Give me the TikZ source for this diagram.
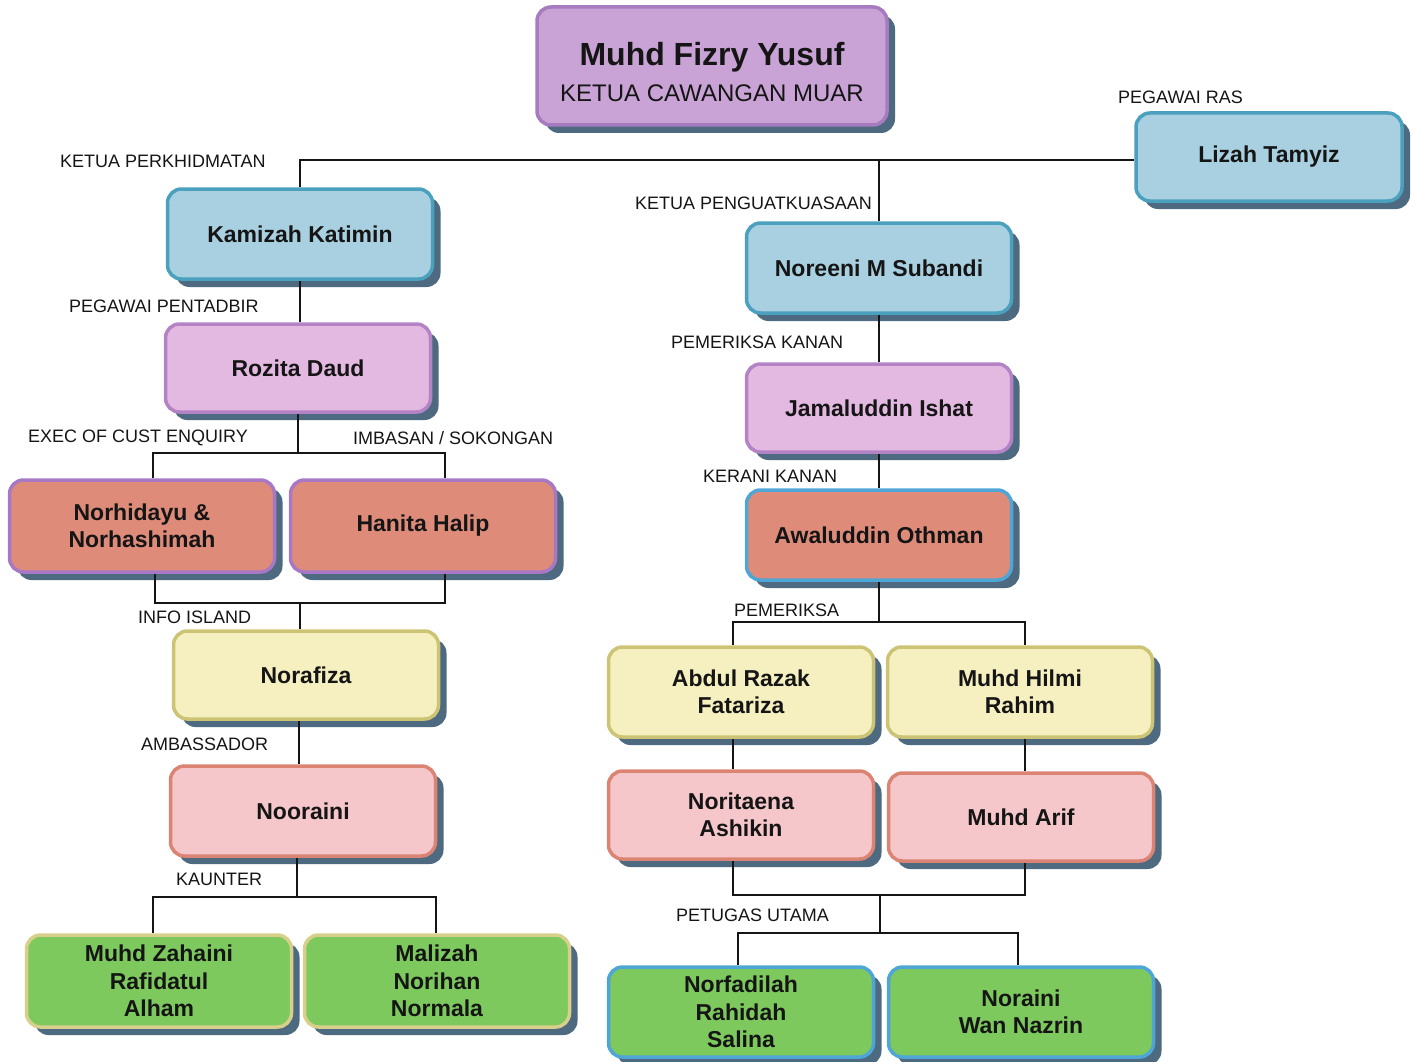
\documentclass[tikz,border=0pt]{standalone}
\usepackage{fontspec}
\setmainfont{Liberation Sans}
\usetikzlibrary{shadows}
\definecolor{shadowc}{HTML}{4E6A80}
\definecolor{topfill}{HTML}{C9A3D6}
\definecolor{topdraw}{HTML}{A77BBF}
\definecolor{bluefill}{HTML}{A8D0E0}
\definecolor{bluedraw}{HTML}{4AA0BD}
\definecolor{lilacfill}{HTML}{E3B9E2}
\definecolor{lilacdraw}{HTML}{B483C6}
\definecolor{salmonfill}{HTML}{DE8B7A}
\definecolor{purpdraw}{HTML}{A878C4}
\definecolor{skydraw}{HTML}{4EA6D6}
\definecolor{yellowfill}{HTML}{F6F0C0}
\definecolor{yellowdraw}{HTML}{CCC474}
\definecolor{pinkfill}{HTML}{F5C7CA}
\definecolor{pinkdraw}{HTML}{DB8474}
\definecolor{greenfill}{HTML}{7DC95E}
\definecolor{greendraw}{HTML}{D8D08A}
\definecolor{txt}{HTML}{151515}
\tikzset{
  box/.style={rounded corners=14pt, minimum width=265pt, minimum height=90pt,
    line width=3.5pt, align=center, inner sep=0pt, text=txt,
    font=\bfseries\fontsize{23}{27.5}\selectfont,
    copy shadow={shadow xshift=8pt, shadow yshift=-8pt, draw=none, fill=shadowc}},
  bluebox/.style={box, fill=bluefill, draw=bluedraw},
  lilacbox/.style={box, fill=lilacfill, draw=lilacdraw},
  salmonbox/.style={box, fill=salmonfill, draw=purpdraw},
  yellowbox/.style={box, fill=yellowfill, draw=yellowdraw},
  pinkbox/.style={box, fill=pinkfill, draw=pinkdraw},
  greenbox/.style={box, fill=greenfill, draw=greendraw},
  lbl/.style={anchor=west, inner sep=0pt, text=txt, font=\fontsize{18}{21}\selectfont},
  conn/.style={line width=2pt, draw=txt}
}
\begin{document}
\begin{tikzpicture}[x=1pt,y=-1pt]
\useasboundingbox (0,0) rectangle (1414,1062);
% nodes
\node[box, fill=topfill, draw=topdraw, minimum width=350pt, minimum height=118pt] (top) at (712,66) {};
\node[inner sep=0pt, align=center, text=txt] (toptext) at (712,72)
  {{\bfseries\fontsize{32}{36}\selectfont Muhd Fizry Yusuf}\\[12pt]{\fontsize{24}{28}\selectfont KETUA CAWANGAN MUAR}};
\node[bluebox, minimum width=266pt, minimum height=88pt] (lizah) at (1269,157) {Lizah Tamyiz};
\node[bluebox] (kamizah) at (300,234) {Kamizah Katimin};
\node[bluebox] (noreeni) at (879,268) {Noreeni M Subandi};
\node[lilacbox, minimum height=88pt] (rozita) at (298,368) {Rozita Daud};
\node[lilacbox, minimum height=88pt] (jamal) at (879,408) {Jamaluddin Ishat};
\node[salmonbox, minimum height=92pt] (norhid) at (142,526) {Norhidayu \&\\Norhashimah};
\node[salmonbox, minimum height=92pt] (hanita) at (423,526) {Hanita Halip};
\node[salmonbox, draw=skydraw] (awal) at (879,535) {Awaluddin Othman};
\node[yellowbox, minimum height=88pt] (norafiza) at (306,675) {Norafiza};
\node[yellowbox] (abdul) at (741,692) {Abdul Razak\\Fatariza};
\node[yellowbox] (hilmi) at (1020,692) {Muhd Hilmi\\Rahim};
\node[pinkbox] (nooraini) at (303,811) {Nooraini};
\node[pinkbox, minimum height=88pt] (noritaena) at (741,815) {Noritaena\\Ashikin};
\node[pinkbox, minimum height=88pt] (arif) at (1021,817) {Muhd Arif};
\node[greenbox, minimum height=92pt] (zahaini) at (159,981) {Muhd Zahaini\\Rafidatul\\Alham};
\node[greenbox, minimum height=92pt] (malizah) at (437,981) {Malizah\\Norihan\\Normala};
\node[greenbox, draw=skydraw] (norfad) at (741,1012) {Norfadilah\\Rahidah\\Salina};
\node[greenbox, draw=skydraw] (noraini) at (1021,1012) {Noraini\\Wan Nazrin};
% junction coordinates
\coordinate (t1) at (300,160);
\coordinate (a1) at (153,453);
\coordinate (a2) at (445,453);
\coordinate (b1) at (155,603);
\coordinate (b2) at (445,603);
\coordinate (c1) at (153,897);
\coordinate (c2) at (436,897);
\coordinate (d1) at (733,622);
\coordinate (d2) at (1025,622);
\coordinate (e1) at (733,895);
\coordinate (e2) at (1025,895);
\coordinate (f1) at (738,933);
\coordinate (f2) at (1018,933);
% connectors
\draw[conn] (kamizah.north -| t1) |- (lizah.west |- t1);
\draw[conn] (noreeni.north) -- (noreeni.north |- t1);
\draw[conn] (kamizah.south) -- (kamizah.south |- rozita.north);
\draw[conn] (rozita.south) -- (rozita.south |- a1);
\draw[conn] (norhid.north -| a1) |- (a2) -- (hanita.north -| a2);
\draw[conn] (norhid.south -| b1) |- (b2) -- (hanita.south -| b2);
\draw[conn] (norafiza.north -| 300,0) -- (300,603);
\draw[conn] (norafiza.south -| 299,0) -- (nooraini.north -| 299,0);
\draw[conn] (nooraini.south -| 297,0) -- (297,897);
\draw[conn] (zahaini.north -| c1) |- (c2) -- (malizah.north -| c2);
\draw[conn] (noreeni.south) -- (jamal.north);
\draw[conn] (jamal.south) -- (awal.north);
\draw[conn] (awal.south) -- (awal.south |- d1);
\draw[conn] (abdul.north -| d1) |- (d2) -- (hilmi.north -| d2);
\draw[conn] (abdul.south -| d1) -- (noritaena.north -| d1);
\draw[conn] (hilmi.south -| d2) -- (arif.north -| d2);
\draw[conn] (noritaena.south -| e1) |- (e2) -- (arif.south -| e2);
\draw[conn] (880,895) -- (880,933);
\draw[conn] (norfad.north -| f1) |- (f2) -- (noraini.north -| f2);
% labels
\node[lbl] (l1) at (60,161) {KETUA PERKHIDMATAN};
\node[lbl] (l2) at (1118,97) {PEGAWAI RAS};
\node[lbl] (l3) at (635,203) {KETUA PENGUATKUASAAN};
\node[lbl] (l4) at (69,306) {PEGAWAI PENTADBIR};
\node[lbl] (l5) at (671,342) {PEMERIKSA KANAN};
\node[lbl] (l6) at (28,438) {EXEC OF CUST ENQUIRY};
\node[lbl] (l7) at (353,438) {IMBASAN / SOKONGAN};
\node[lbl] (l8) at (703,476) {KERANI KANAN};
\node[lbl] (l9) at (138,617) {INFO ISLAND};
\node[lbl] (l10) at (734,610) {PEMERIKSA};
\node[lbl] (l11) at (141,744) {AMBASSADOR};
\node[lbl] (l12) at (176,879) {KAUNTER};
\node[lbl] (l13) at (676,915) {PETUGAS UTAMA};
\end{tikzpicture}
\end{document}
